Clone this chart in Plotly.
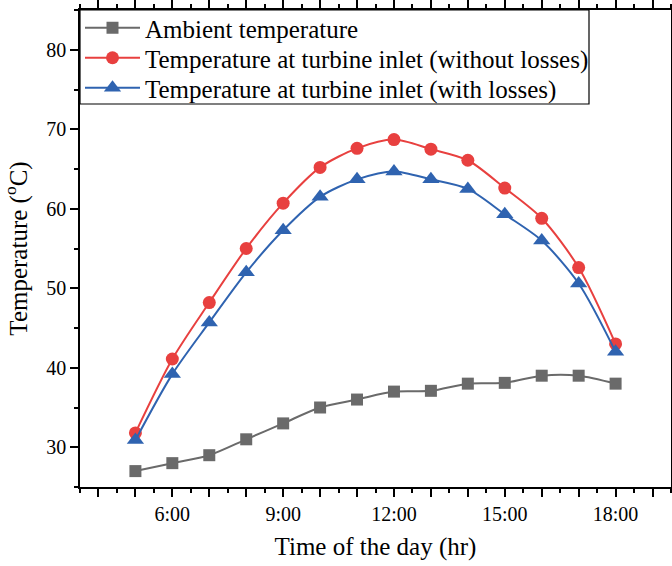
import plotly.graph_objects as go

hours = [5, 6, 7, 8, 9, 10, 11, 12, 13, 14, 15, 16, 17, 18]
ambient = [27.0, 28.0, 29.0, 31.0, 33.0, 35.0, 36.0, 37.0, 37.1, 38.0, 38.1, 39.0, 39.0, 38.0]
inlet_no_loss = [31.8, 41.1, 48.2, 55.0, 60.7, 65.2, 67.6, 68.7, 67.5, 66.1, 62.6, 58.8, 52.6, 43.0]
inlet_loss = [30.9, 39.2, 45.7, 52.0, 57.3, 61.5, 63.7, 64.7, 63.7, 62.5, 59.3, 56.0, 50.6, 42.0]

y_tickvals = [30, 40, 50, 60, 70, 80]

FONT = "Liberation Serif, Times New Roman, serif"

W, H = 672, 566
ML, MR, MT, MB = 80, 1, 10, 79
PW, PH = W - ML - MR, H - MT - MB

fig = go.Figure()
fig.add_trace(go.Scatter(
    x=hours, y=ambient, name="Ambient temperature", mode="lines+markers",
    line=dict(color="#6a6a6a", width=2, shape="spline", smoothing=0.8),
    marker=dict(symbol="square", size=12, color="#6a6a6a"), legend="legend"))
fig.add_trace(go.Scatter(
    x=hours, y=inlet_no_loss, name="Temperature at turbine inlet (without losses)",
    mode="lines+markers",
    line=dict(color="#e8403f", width=2, shape="spline", smoothing=0.8),
    marker=dict(symbol="circle", size=13, color="#e8403f"), legend="legend2"))
fig.add_trace(go.Scatter(
    x=hours, y=inlet_loss, name="Temperature at turbine inlet (with losses)",
    mode="lines+markers",
    line=dict(color="#2f63b0", width=2, shape="spline", smoothing=0.8),
    marker=dict(symbol="triangle-up", size=15, color="#2f63b0"), legend="legend3"))

def leg(row_px):
    return dict(x=0, y=1 - (row_px - MT) / PH, xanchor="left", yanchor="middle",
                borderwidth=0, bgcolor="rgba(0,0,0,0)",
                font=dict(family=FONT, size=25), itemwidth=55)

fig.update_layout(
    width=W, height=H,
    margin=dict(l=ML, r=MR, t=MT, b=MB),
    paper_bgcolor="white", plot_bgcolor="white",
    font=dict(family=FONT, size=20, color="black"),
    showlegend=True,
    legend=leg(28), legend2=leg(58), legend3=leg(88),
    shapes=[dict(type="rect", xref="paper", yref="paper",
                 x0=0, x1=(589 - ML) / PW, y0=1 - (104 - MT) / PH, y1=1,
                 line=dict(color="black", width=1.2), fillcolor="white", layer="below")],
)
fig.update_xaxes(
    range=[3.5, 19.5], automargin=False,
    tickmode="linear", tick0=0, dtick=1, ticklabelstep=3, ticksuffix=":00",
    ticks="outside", ticklen=8, tickwidth=1.5, tickcolor="black",
    minor=dict(dtick=0.5, tick0=0, ticks="outside", ticklen=4, tickwidth=1.5, tickcolor="black"),
    showline=True, linecolor="black", linewidth=1.5, mirror="ticks",
    showgrid=False, zeroline=False,
    title=dict(text="Time of the day (hr)", font=dict(size=25), standoff=14),
    tickfont=dict(size=20),
)
fig.update_yaxes(
    range=[25, 85], automargin=False,
    tickmode="array", tickvals=y_tickvals,
    ticks="outside", ticklen=8, tickwidth=1.5, tickcolor="black",
    minor=dict(tickvals=[25, 35, 45, 55, 65, 75, 85], ticks="outside", ticklen=4,
               tickwidth=1.5, tickcolor="black"),
    showline=True, linecolor="black", linewidth=1.5, mirror="ticks",
    showgrid=False, zeroline=False,
    title=dict(text="Temperature (<sup>o</sup>C)", font=dict(size=25), standoff=14),
    tickfont=dict(size=20),
)

fig.write_html("out.html")
